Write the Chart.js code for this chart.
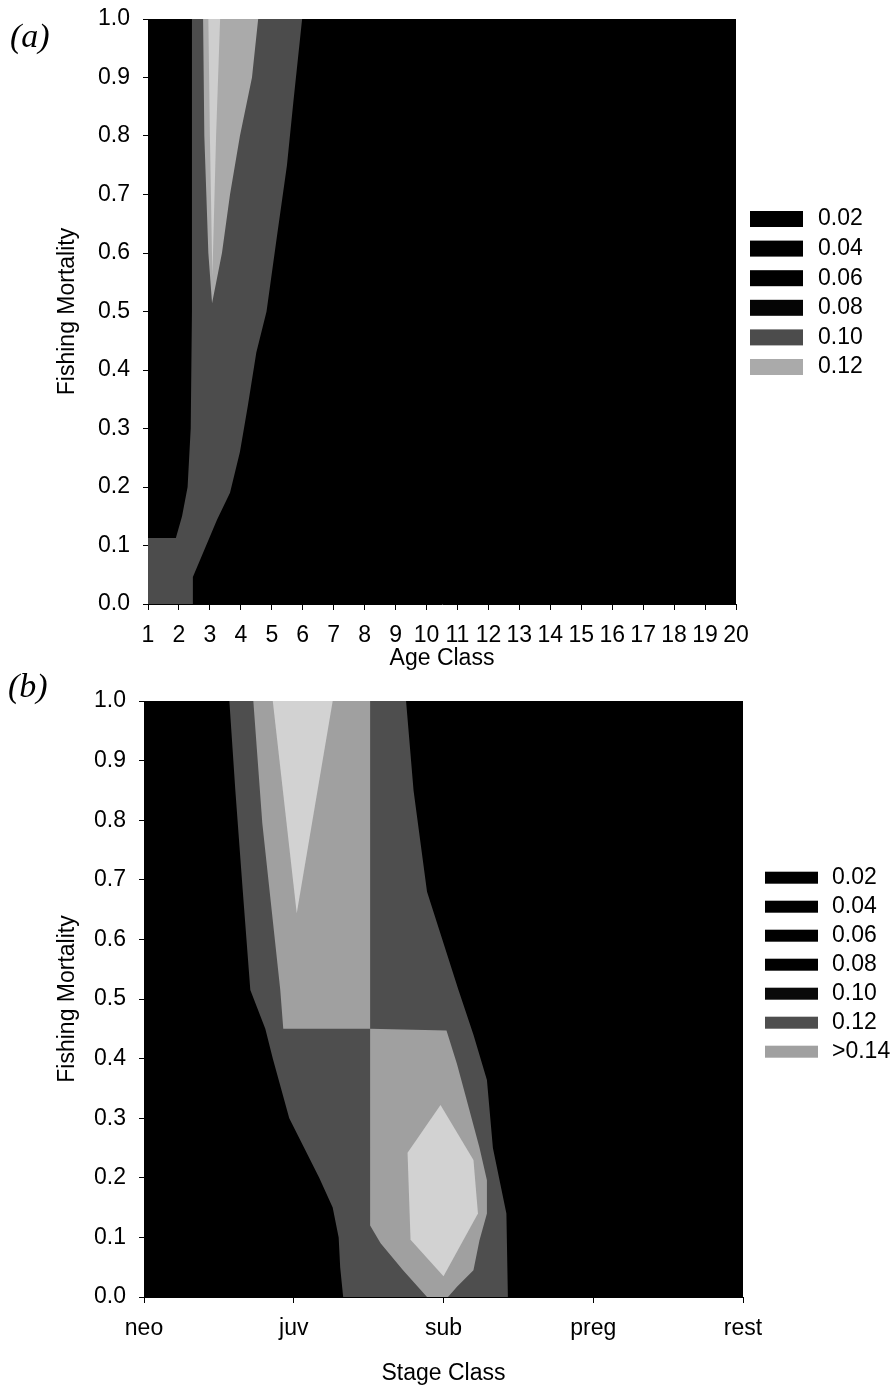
<!DOCTYPE html>
<html>
<head>
<meta charset="utf-8">
<script src="https://cdn.jsdelivr.net/npm/chart.js@4.4.1/dist/chart.umd.min.js"></script>
<style>
  html, body { margin: 0; padding: 0; background: #fff; }
  #wrap { position: relative; width: 895px; height: 1387px; overflow: hidden; }
  canvas { position: absolute; left: 0; }
  .panel { position: absolute; font-family: "Liberation Serif", "Times New Roman", serif;
           font-style: italic; font-size: 34px; line-height: 1; color: #000; }
</style>
</head>
<body>
<div id="wrap">
  <canvas id="chartA" width="895" height="680" style="top:0px"></canvas>
  <canvas id="chartB" width="895" height="707" style="top:680px"></canvas>
  <div class="panel" style="left:10px; top:19px;">(a)</div>
  <div class="panel" style="left:8px; top:669px;">(b)</div>
</div>
<script>
// ---- axes ----
const ageClasses = [1, 2, 3, 4, 5, 6, 7, 8, 9, 10, 11, 12, 13, 14, 15, 16, 17, 18, 19, 20];
const stageClasses = ['neo', 'juv', 'sub', 'preg', 'rest'];
const mortalityTicks = [0.0, 0.1, 0.2, 0.3, 0.4, 0.5, 0.6, 0.7, 0.8, 0.9, 1.0];

// ---- panel (a): elasticity contours over age class x fishing mortality ----
const levelsA = ['0.02', '0.04', '0.06', '0.08', '0.10', '0.12'];
const shadesA = ['#000000', '#000000', '#000000', '#050505', '#4c4c4c', '#aaaaaa'];
// region where elasticity >= 0.10  (age, F)
const contourA_010 = [[1.0,0.0],[1.0,0.113],[1.9,0.113],[2.1,0.15],[2.28,0.2],[2.38,0.3],[2.42,0.5],
  [2.42,1.0],[5.98,1.0],[5.7,0.86],[5.49,0.75],[5.17,0.63],[4.83,0.5],[4.5,0.43],[4.23,0.34],
  [3.97,0.26],[3.65,0.19],[3.23,0.144],[2.45,0.046],[2.45,0.0]];
// region where elasticity >= 0.12
const contourA_012 = [[2.78,1.0],[4.56,1.0],[4.36,0.9],[3.97,0.8],[3.65,0.7],[3.39,0.6],
  [3.07,0.514],[2.95,0.6],[2.82,0.8]];
// region where elasticity >= 0.14
const contourA_014 = [[2.95,1.0],[3.33,1.0],[3.2,0.8],[3.08,0.56],[3.0,0.8]];

// ---- panel (b): elasticity contours over stage class x fishing mortality ----
const levelsB = ['0.02', '0.04', '0.06', '0.08', '0.10', '0.12', '>0.14'];
const shadesB = ['#000000', '#000000', '#000000', '#000000', '#0a0a0a', '#4e4e4e', '#a0a0a0'];
// region where elasticity >= 0.12  (stage index, F)
const contourB_012 = [[0.57,1.0],[1.75,1.0],[1.8,0.85],[1.89,0.68],[2.1,0.515],[2.2,0.44],
  [2.29,0.364],[2.33,0.25],[2.42,0.14],[2.43,0.0],[1.33,0.0],[1.31,0.05],[1.3,0.1],[1.26,0.15],
  [1.17,0.2],[1.07,0.25],[0.97,0.3],[0.86,0.4],[0.81,0.45],[0.71,0.515],[0.66,0.68],[0.61,0.85]];
// regions where elasticity >= 0.14
const contourB_014_juv = [[0.73,1.0],[1.51,1.0],[1.51,0.45],[0.93,0.45],[0.91,0.515],[0.79,0.795]];
const contourB_014_sub = [[1.51,0.45],[2.02,0.447],[2.09,0.391],[2.15,0.335],[2.24,0.251],
  [2.29,0.196],[2.29,0.14],[2.24,0.095],[2.2,0.045],[2.09,0.017],[2.03,0.0],[1.89,0.0],
  [1.73,0.045],[1.58,0.09],[1.51,0.12]];
// regions where elasticity >= 0.16
const contourB_016_juv = [[0.86,1.0],[1.26,1.0],[1.02,0.644]];
const contourB_016_sub = [[1.98,0.322],[2.2,0.23],[2.23,0.14],[2.0,0.035],[1.78,0.096],[1.76,0.242]];

Chart.defaults.font.family = '"Liberation Sans", Arial, sans-serif';
Chart.defaults.font.size = 23;
Chart.defaults.color = '#000';

const toPoints = arr => arr.map(([x, y]) => ({ x, y }));

// fills the plot area with the lowest band, then each contour region on top
const contourFill = {
  id: 'contourFill',
  beforeDatasetsDraw(chart, args, opts) {
    const { ctx, chartArea: a } = chart;
    ctx.save();
    ctx.beginPath();
    ctx.rect(a.left, a.top, a.right - a.left, a.bottom - a.top);
    ctx.clip();
    ctx.fillStyle = opts.base;
    ctx.fillRect(a.left, a.top, a.right - a.left, a.bottom - a.top);
    chart.data.datasets.forEach((ds, i) => {
      const meta = chart.getDatasetMeta(i);
      if (!meta.data.length) return;
      ctx.beginPath();
      meta.data.forEach((pt, j) => (j ? ctx.lineTo(pt.x, pt.y) : ctx.moveTo(pt.x, pt.y)));
      ctx.closePath();
      ctx.fillStyle = ds.backgroundColor;
      ctx.fill();
    });
    ctx.restore();
  }
};

// level key drawn beside the plot
const contourLegend = {
  id: 'contourLegend',
  afterDraw(chart, args, o) {
    const ctx = chart.ctx;
    ctx.save();
    ctx.font = '23px "Liberation Sans", Arial, sans-serif';
    ctx.textBaseline = 'middle';
    ctx.textAlign = 'left';
    o.labels.forEach((lab, i) => {
      const y = o.y + i * o.step;
      ctx.fillStyle = o.colors[i];
      ctx.fillRect(o.x, y - o.h / 2, o.w, o.h);
      ctx.fillStyle = '#000';
      ctx.fillText(lab, o.x + o.w + o.gap, y);
    });
    ctx.restore();
  }
};

function yScale(width) {
  return {
    type: 'linear', min: 0, max: 1,
    afterFit: s => { s.width = width; s.paddingTop = 0; s.paddingBottom = 0; },
    afterBuildTicks: s => { s.ticks = mortalityTicks.map(v => ({ value: v })); },
    ticks: { padding: 13, callback: v => Number(v).toFixed(1), font: { size: 23 } },
    grid: { display: true, drawOnChartArea: false, drawTicks: true, tickLength: 5, color: '#000' },
    border: { display: true, color: '#000', width: 1 },
    title: { display: true, text: 'Fishing Mortality', font: { size: 23 }, padding: { top: 54, bottom: 0 } }
  };
}

function panelOptions(p) {
  return {
    responsive: false,
    animation: false,
    events: [],
    layout: { padding: { top: p.top, right: p.right, bottom: 0, left: 0 } },
    plugins: {
      legend: { display: false },
      tooltip: { enabled: false },
      contourFill: { base: '#000000' },
      contourLegend: p.legend
    },
    elements: { point: { radius: 0, hoverRadius: 0 } },
    scales: {
      x: {
        type: 'linear', min: p.xMin, max: p.xMax,
        afterFit: s => { s.height = p.xHeight; s.paddingLeft = 0; s.paddingRight = 0; },
        afterBuildTicks: s => { s.ticks = p.xTicks.map(v => ({ value: v })); },
        ticks: { padding: 12, autoSkip: false, maxRotation: 0, callback: p.xLabel, font: { size: 23 } },
        grid: { display: true, drawOnChartArea: false, drawTicks: true, tickLength: 6, color: '#000' },
        border: { display: true, color: '#000', width: 1 },
        title: { display: true, text: p.xTitle, font: { size: 23 }, padding: { top: 0, bottom: p.titlePad } }
      },
      y: yScale(p.yWidth)
    }
  };
}

new Chart(document.getElementById('chartA'), {
  type: 'scatter',
  data: {
    datasets: [
      { label: '0.10', data: toPoints(contourA_010), backgroundColor: shadesA[4] },
      { label: '0.12', data: toPoints(contourA_012), backgroundColor: shadesA[5] },
      { label: '0.14', data: toPoints(contourA_014), backgroundColor: '#cecece' }
    ]
  },
  options: panelOptions({
    top: 19, right: 159, yWidth: 148, xHeight: 76, titlePad: 8,
    xMin: 1, xMax: 20, xTicks: ageClasses, xTitle: 'Age Class',
    xLabel: (v, i) => String(ageClasses[i]),
    legend: { labels: levelsA, colors: shadesA, x: 750, y: 219, step: 29.6, w: 53, h: 16, gap: 15 }
  }),
  plugins: [contourFill, contourLegend]
});

new Chart(document.getElementById('chartB'), {
  type: 'scatter',
  data: {
    datasets: [
      { label: '0.12', data: toPoints(contourB_012), backgroundColor: shadesB[5] },
      { label: '>0.14', data: toPoints(contourB_014_juv), backgroundColor: shadesB[6] },
      { label: '>0.14', data: toPoints(contourB_014_sub), backgroundColor: shadesB[6] },
      { label: '0.16', data: toPoints(contourB_016_juv), backgroundColor: '#d2d2d2' },
      { label: '0.16', data: toPoints(contourB_016_sub), backgroundColor: '#d2d2d2' }
    ]
  },
  options: panelOptions({
    top: 21, right: 152, yWidth: 144, xHeight: 90, titlePad: 0,
    xMin: 0, xMax: 4, xTicks: stageClasses.map((s, i) => i), xTitle: 'Stage Class',
    xLabel: (v, i) => stageClasses[i],
    legend: { labels: levelsB, colors: shadesB, x: 765, y: 197.7, step: 29, w: 53, h: 12, gap: 14 }
  }),
  plugins: [contourFill, contourLegend]
});
</script>
</body>
</html>
